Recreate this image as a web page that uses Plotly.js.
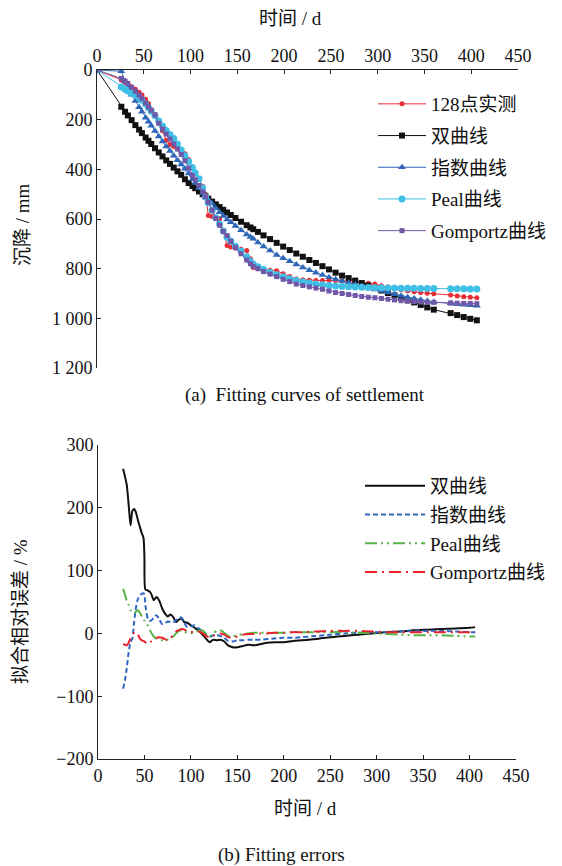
<!DOCTYPE html>
<html>
<head>
<meta charset="utf-8">
<script src="https://cdn.plot.ly/plotly-3.0.1.min.js"></script>
<style>
  html, body { margin: 0; padding: 0; background: #ffffff; }
  #chart { width: 562px; height: 866px; }
</style>
</head>
<body>
<div id="chart"></div>
<script>
// ---- Settlement record (days since start, settlement in mm) ----
const days = [0, 26, 30, 33, 37, 41, 45, 48, 52, 55, 58, 62, 66, 70, 74, 78, 82, 86, 90, 94,
  98, 102, 105, 109, 113, 116, 119, 123, 127, 131, 135, 139, 143, 148, 154, 160, 164, 167, 172, 178,
  185, 192, 199, 206, 213, 220, 227, 234, 241, 248, 255, 262, 269, 276, 283, 290, 297, 304, 311, 318,
  325, 332, 339, 346, 353, 360, 378, 385, 392, 399, 406];

// point 128, measured
const measured = [0, 40, 50, 57, 67, 78, 90, 101, 118, 135, 160, 180, 205, 245, 283, 300, 308, 318, 330, 337,
  360, 395, 418, 440, 468, 500, 586, 590, 595, 599, 650, 707, 713, 718, 722, 727, 760, 795, 800, 803,
  806, 808, 820, 832, 842, 845, 847, 848, 848, 848, 848, 849, 851, 853, 856, 859, 862, 869, 874, 880,
  885, 889, 893, 896, 899, 901, 906, 910, 913, 915, 917];

// hyperbolic fit
const hyperbolic = [0, 148, 168, 183, 202, 222, 240, 254, 272, 285, 298, 315, 332, 348, 364, 378, 393, 408, 422, 440,
  455, 467, 476, 489, 500, 509, 518, 530, 541, 552, 563, 574, 584, 596, 611, 625, 634, 641, 652, 666,
  681, 696, 711, 725, 739, 752, 765, 777, 790, 803, 816, 828, 838, 848, 858, 868, 878, 888, 898, 908,
  918, 927, 936, 946, 956, 965, 979, 987, 995, 1002, 1008];

// exponential fit
const exponential = [0, 5, 45, 72, 100, 125, 150, 168, 192, 208, 224, 246, 268, 288, 308, 326, 345, 363, 381, 398,
  417, 440, 455, 475, 495, 510, 522, 538, 557, 573, 588, 602, 613, 628, 645, 662, 672, 680, 695, 711,
  727, 745, 758, 770, 783, 795, 806, 816, 826, 835, 843, 850, 857, 863, 870, 877, 884, 890, 896, 903,
  909, 915, 920, 925, 930, 934, 940, 943, 945, 947, 949];

// Pearl fit
const pearl = [0, 68, 78, 85, 94, 102, 112, 122, 137, 152, 166, 184, 205, 226, 244, 260, 276, 298, 322, 345,
  368, 393, 414, 438, 475, 510, 535, 565, 595, 620, 648, 673, 690, 710, 730, 752, 770, 782, 792, 803,
  814, 824, 833, 841, 848, 853, 858, 862, 865, 868, 870, 872, 873, 874, 875, 876, 877, 877, 878, 878,
  879, 879, 879, 880, 880, 880, 881, 881, 881, 882, 882];

// Gompertz fit
const gompertz = [0, 34, 45, 54, 70, 85, 100, 114, 133, 148, 162, 180, 215, 238, 258, 278, 298, 318, 340, 365,
  395, 425, 442, 465, 490, 510, 532, 565, 598, 625, 650, 667, 690, 715, 740, 765, 780, 790, 800, 812,
  822, 832, 843, 852, 862, 868, 873, 878, 883, 890, 896, 900, 904, 908, 912, 915, 917, 920, 923, 926,
  929, 931, 933, 934, 935, 936, 938, 939, 940, 940, 941];

// ---- Relative fitting error (%) ----
const errDays = [27, 29, 31, 33, 35, 37, 39, 41, 43, 45, 47, 49, 50, 51, 54, 57, 60, 63, 66, 69,
  72, 75, 78, 81, 84, 87, 90, 93, 96, 100, 104, 108, 112, 116, 120, 124, 128, 132, 136, 140,
  145, 150, 156, 162, 168, 175, 182, 190, 200, 210, 220, 235, 250, 265, 280, 295, 310, 325, 340, 355,
  370, 385, 400, 406];

const errHyperbolic = [262, 250, 236, 205, 172, 195, 198, 192, 180, 170, 160, 152, 120, 70, 68, 64, 53, 58, 52, 40,
  32, 27, 30, 26, 18, 22, 23, 18, 17, 13, 9, 5, -1, -8, -14, -10, -11, -10, -13, -19,
  -22, -22, -20, -18, -19, -17, -15, -14, -14, -12, -11, -9, -6, -4, -2, 0, 2, 3, 5, 6,
  7, 8, 9, 10];

const errExponential = [-88, -75, -55, -30, -14, -8, 20, 42, 55, 60, 63, 64, 62, 45, 22, 20, 25, 29, 22, 15,
  16, 19, 18, 18, 21, 25, 25, 17, 10, 11, 13, 8, 4, -2, -6, -3, -3, -4, -7, -12,
  -13, -11, -11, -10, -10, -10, -9, -8, -7, -7, -6, -4, -2, 0, 1, 2, 2, 3, 4, 4,
  4, 3, 2, 2];

const errPearl = [71, 62, 52, 45, 37, 33, 32, 35, 37, 33, 28, 25, 20, 16, 12, 2, -5, -8, -10, -11,
  -12, -10, -8, -5, 0, 4, 5, 3, 1, 0, 2, 4, 5, 0, -5, 0, 4, 5, 1, -4,
  -5, -3, -1, 0, 1, 1, 1, 1, 1, 2, 2, 2, 2, 2, 1, 0, -1, -2, -3, -3,
  -3, -4, -5, -5];

const errGompertz = [-17, -18, -19, -15, -8, -3, 1, 2, -2, -8, -11, -12, -13, -14, -17, -13, -9, -7, -6, -7,
  -9, -11, -8, -2, 3, 5, 7, 6, 3, 2, 3, 3, 1, -4, -6, -4, -1, 0, -2, -6,
  -7, -5, -2, -1, -1, 0, 0, 1, 1, 2, 2, 3, 4, 4, 4, 3, 2, 2, 2, 2,
  2, 2, 2, 2];

const xTicks = [0, 50, 100, 150, 200, 250, 300, 350, 400, 450];
const settleTicks = [0, 200, 400, 600, 800, 1000, 1200];
const settleTickText = ['0', '200', '400', '600', '800', '1 000', '1 200'];
const errTicks = [-200, -100, 0, 100, 200, 300];

const labelsTop = ['128点实测', '双曲线', '指数曲线', 'Peal曲线', 'Gomportz曲线'];
const labelsBottom = ['双曲线', '指数曲线', 'Peal曲线', 'Gomportz曲线'];

// ---- styling ----
const FONT = 'Liberation Serif, Noto Sans CJK SC, serif';
const W = 562, H = 866;
const px = v => v / W;            // horizontal pixel -> paper
const py = v => 1 - v / H;        // vertical pixel (from top) -> paper

const cRed = '#ea2c36', cBlack = '#111111', cBlue = '#2f67b8', cCyan = '#3fbfe6', cPurple = '#7057a8';
const eBlue = '#2f68c4', eGreen = '#56b445', eRed = '#e8232b';

const topTraces = [
  { y: measured, color: cRed, symbol: 'circle', size: 5 },
  { y: hyperbolic, color: cBlack, symbol: 'square', size: 6 },
  { y: exponential, color: cBlue, symbol: 'triangle-up', size: 7 },
  { y: pearl, color: cCyan, symbol: 'circle', size: 7 },
  { y: gompertz, color: cPurple, symbol: 'square', size: 5 }
].map((s, i) => ({
  type: 'scatter', mode: 'lines+markers',
  x: days, y: s.y, name: labelsTop[i],
  xaxis: 'x', yaxis: 'y', legend: 'legend', legendgroup: 'a' + i,
  line: { color: s.color, width: 1 },
  marker: { color: s.color, symbol: s.symbol, size: s.size, line: { width: 0 } }
}));

const bottomTraces = [
  { y: errHyperbolic, color: cBlack, dash: 'solid', width: 2 },
  { y: errExponential, color: eBlue, dash: '5px,3px', width: 2 },
  { y: errPearl, color: eGreen, dash: '12px,4px,2px,4px,2px,4px', width: 2 },
  { y: errGompertz, color: eRed, dash: '12px,5px,2px,5px', width: 2 }
].map((s, i) => ({
  type: 'scatter', mode: 'lines',
  x: errDays, y: s.y, name: labelsBottom[i],
  xaxis: 'x2', yaxis: 'y2', legend: 'legend2', legendgroup: 'b' + i,
  line: { color: s.color, width: s.width, dash: s.dash, shape: 'spline', smoothing: 0.6 }
}));

const axisBase = {
  showgrid: false, zeroline: false, showline: true, linecolor: '#222', linewidth: 1,
  ticks: 'inside', ticklen: 4, tickcolor: '#222', tickwidth: 1,
  tickfont: { family: FONT, size: 18, color: '#111' }
};

const annFont = { family: FONT, size: 19, color: '#111' };
const ann = (text, x, y, extra) => Object.assign({
  text: text, x: px(x), y: py(y), xref: 'paper', yref: 'paper',
  xanchor: 'center', yanchor: 'middle', showarrow: false, font: annFont
}, extra || {});

const layout = {
  width: W, height: H,
  margin: { l: 0, r: 0, t: 0, b: 0 },
  paper_bgcolor: '#ffffff', plot_bgcolor: '#ffffff',
  showlegend: true,
  font: { family: FONT, size: 18, color: '#111' },
  xaxis: Object.assign({}, axisBase, {
    domain: [px(97), px(518)], range: [0, 450], side: 'top', anchor: 'y',
    tickvals: xTicks
  }),
  yaxis: Object.assign({}, axisBase, {
    domain: [py(368), py(70)], range: [1200, 0], anchor: 'x',
    tickvals: settleTicks, ticktext: settleTickText
  }),
  xaxis2: Object.assign({}, axisBase, {
    domain: [px(98), px(516)], range: [0, 450], anchor: 'y2',
    tickvals: xTicks
  }),
  yaxis2: Object.assign({}, axisBase, {
    domain: [py(759), py(445)], range: [-200, 300], anchor: 'x2',
    tickvals: errTicks
  }),
  legend: {
    x: px(373), y: py(85), xanchor: 'left', yanchor: 'top',
    bgcolor: 'rgba(0,0,0,0)', borderwidth: 0, itemwidth: 48,
    traceorder: 'grouped', tracegroupgap: 4,
    font: { family: FONT, size: 19, color: '#111' }
  },
  legend2: {
    x: px(360), y: py(467), xanchor: 'left', yanchor: 'top',
    bgcolor: 'rgba(0,0,0,0)', borderwidth: 0, itemwidth: 60,
    traceorder: 'grouped', tracegroupgap: 1,
    font: { family: FONT, size: 19, color: '#111' }
  },
  annotations: [
    ann('时间 / d', 290, 18),
    ann('沉降 / mm', 22, 225, { textangle: -90 }),
    ann('(a)\u00a0\u00a0Fitting curves of settlement', 305, 395),
    ann('时间 / d', 305, 808),
    ann('拟合相对误差 / %', 20, 612, { textangle: -90 }),
    ann('(b) Fitting errors', 281, 855)
  ]
};

Plotly.newPlot('chart', topTraces.concat(bottomTraces), layout, { staticPlot: true, displayModeBar: false });
</script>
</body>
</html>
